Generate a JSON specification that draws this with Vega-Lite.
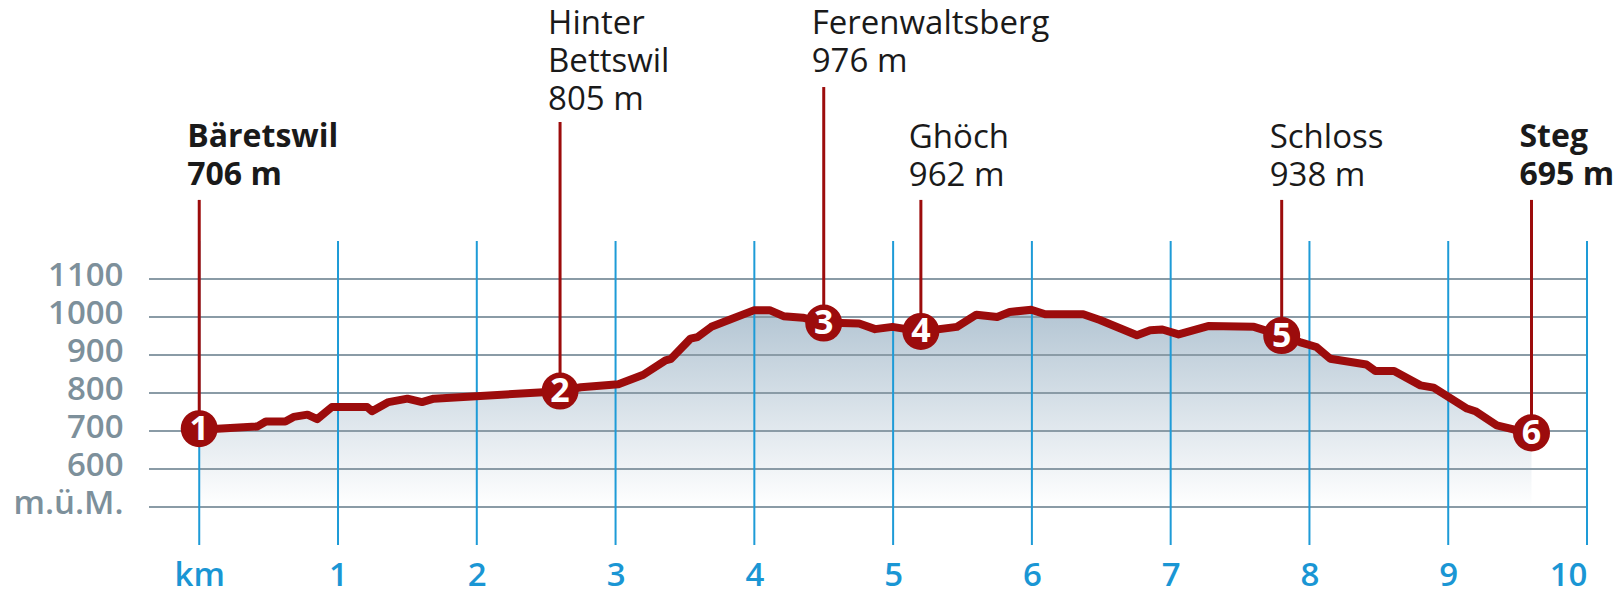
{
  "$schema": "https://vega.github.io/schema/vega-lite/v6.json",
  "width": 1438,
  "height": 545,
  "autosize": {"type": "none"},
  "padding": {"left": 149, "top": 0, "right": 35, "bottom": 51},
  "background": "#ffffff",
  "config": {"view": {"stroke": null}, "font": "Open Sans"},
  "datasets": {
    "profile": [
      {"km": 0, "elev": 706}, {"km": 0.13, "elev": 706}, {"km": 0.42, "elev": 712}, {"km": 0.48, "elev": 725},
      {"km": 0.62, "elev": 725}, {"km": 0.68, "elev": 737}, {"km": 0.78, "elev": 743}, {"km": 0.85, "elev": 731},
      {"km": 0.956, "elev": 763}, {"km": 1.21, "elev": 763}, {"km": 1.245, "elev": 752}, {"km": 1.364, "elev": 776},
      {"km": 1.5, "elev": 785}, {"km": 1.605, "elev": 776}, {"km": 1.69, "elev": 785}, {"km": 2.48, "elev": 802},
      {"km": 2.6, "elev": 805}, {"km": 2.75, "elev": 815}, {"km": 3.02, "elev": 823}, {"km": 3.2, "elev": 848},
      {"km": 3.36, "elev": 886}, {"km": 3.4, "elev": 890}, {"km": 3.54, "elev": 943}, {"km": 3.59, "elev": 947},
      {"km": 3.69, "elev": 974}, {"km": 4.0, "elev": 1018}, {"km": 4.11, "elev": 1018}, {"km": 4.21, "elev": 1002},
      {"km": 4.35, "elev": 998}, {"km": 4.5, "elev": 984}, {"km": 4.63, "elev": 984}, {"km": 4.755, "elev": 983},
      {"km": 4.87, "elev": 968}, {"km": 4.995, "elev": 974}, {"km": 5.2, "elev": 962}, {"km": 5.46, "elev": 974},
      {"km": 5.6, "elev": 1006}, {"km": 5.75, "elev": 1000}, {"km": 5.84, "elev": 1013}, {"km": 5.995, "elev": 1019},
      {"km": 6.096, "elev": 1007}, {"km": 6.37, "elev": 1007}, {"km": 6.49, "elev": 992}, {"km": 6.757, "elev": 952},
      {"km": 6.853, "elev": 965}, {"km": 6.94, "elev": 967}, {"km": 7.057, "elev": 954}, {"km": 7.27, "elev": 976},
      {"km": 7.6, "elev": 974}, {"km": 7.8, "elev": 951}, {"km": 7.93, "elev": 934}, {"km": 8.05, "elev": 921},
      {"km": 8.15, "elev": 890}, {"km": 8.41, "elev": 875}, {"km": 8.475, "elev": 858}, {"km": 8.61, "elev": 858},
      {"km": 8.8, "elev": 820}, {"km": 8.895, "elev": 814}, {"km": 9.135, "elev": 759}, {"km": 9.195, "elev": 752},
      {"km": 9.35, "elev": 715}, {"km": 9.47, "elev": 704}, {"km": 9.6, "elev": 695}
    ],
    "grid": [
      {"elev": 500}, {"elev": 600}, {"elev": 700}, {"elev": 800}, {"elev": 900}, {"elev": 1000}, {"elev": 1100}
    ],
    "kms": [
      {"km": 0}, {"km": 1}, {"km": 2}, {"km": 3}, {"km": 4}, {"km": 5}, {"km": 6}, {"km": 7}, {"km": 8}, {"km": 9}, {"km": 10}
    ],
    "stops": [
      {"n": "1", "km": 0, "elev": 706, "top": 1308, "ly": 1513, "label": "Bäretswil\n706 m", "bold": true},
      {"n": "2", "km": 2.6, "elev": 805, "top": 1513, "ly": 1813, "label": "Hinter\nBettswil\n805 m", "bold": false},
      {"n": "3", "km": 4.5, "elev": 984, "top": 1605, "ly": 1813, "label": "Ferenwaltsberg\n976 m", "bold": false},
      {"n": "4", "km": 5.2, "elev": 962, "top": 1308, "ly": 1513, "label": "Ghöch\n962 m", "bold": false},
      {"n": "5", "km": 7.8, "elev": 951, "top": 1308, "ly": 1513, "label": "Schloss\n938 m", "bold": false},
      {"n": "6", "km": 9.6, "elev": 695, "top": 1308, "ly": 1513, "label": "Steg\n695 m", "bold": true}
    ]
  },
  "layer": [
    {
      "data": {"name": "profile"},
      "mark": {
        "type": "area",
        "color": {
          "gradient": "linear", "x1": 0, "y1": 0, "x2": 0, "y2": 1,
          "stops": [{"offset": 0, "color": "#b3c5d3"}, {"offset": 1, "color": "#ffffff"}]
        }
      },
      "encoding": {
        "x": {
          "field": "km", "type": "quantitative",
          "scale": {"domain": [-0.362, 10], "nice": false, "zero": false},
          "axis": {
            "title": null, "values": [0, 1, 2, 3, 4, 5, 6, 7, 8, 9, 10],
            "format": "d",
            "labelExpr": "datum.value == 0 ? 'km' : datum.label",
            "ticks": false, "domain": false, "grid": false,
            "labelFontSize": 33, "labelFontWeight": 600, "labelColor": "#1a96d4",
            "labelPadding": 14, "labelFont": "Open Sans"
          }
        },
        "y": {
          "field": "elev", "type": "quantitative",
          "scale": {"domain": [400, 1834], "nice": false, "zero": false},
          "axis": {
            "title": null, "values": [500, 600, 700, 800, 900, 1000, 1100],
            "format": "d",
            "labelExpr": "datum.value == 500 ? 'm.ü.M.' : datum.label",
            "ticks": false, "domain": false, "grid": false,
            "labelFontSize": 33, "labelFontWeight": 600, "labelColor": "#7d909b",
            "labelPadding": 26, "labelBaseline": "alphabetic", "labelOffset": 7, "labelFont": "Open Sans"
          }
        },
        "y2": {"datum": 500}
      }
    },
    {
      "data": {"name": "grid"},
      "mark": {"type": "rule", "color": "#8a9ba6", "strokeWidth": 2},
      "encoding": {"y": {"field": "elev", "type": "quantitative"}}
    },
    {
      "data": {"name": "kms"},
      "mark": {"type": "rule", "color": "#1e9bd7", "strokeWidth": 2},
      "encoding": {
        "x": {"field": "km", "type": "quantitative"},
        "y": {"datum": 400, "type": "quantitative"},
        "y2": {"datum": 1200}
      }
    },
    {
      "data": {"name": "stops"},
      "mark": {"type": "rule", "color": "#9c0c0c", "strokeWidth": 3},
      "encoding": {
        "x": {"field": "km", "type": "quantitative"},
        "y": {"field": "top", "type": "quantitative"},
        "y2": {"field": "elev"}
      }
    },
    {
      "data": {"name": "profile"},
      "mark": {"type": "line", "color": "#9c0c0c", "strokeWidth": 8, "strokeJoin": "round", "strokeCap": "round"},
      "encoding": {
        "x": {"field": "km", "type": "quantitative"},
        "y": {"field": "elev", "type": "quantitative"}
      }
    },
    {
      "data": {"name": "stops"},
      "mark": {"type": "point", "shape": "circle", "filled": true, "size": 1370, "opacity": 1, "color": "#9c0c0c"},
      "encoding": {
        "x": {"field": "km", "type": "quantitative"},
        "y": {"field": "elev", "type": "quantitative"}
      }
    },
    {
      "data": {"name": "stops"},
      "mark": {"type": "text", "color": "#ffffff", "font": "Open Sans", "fontWeight": "bold", "fontSize": 34, "baseline": "middle", "align": "center", "dy": 1},
      "encoding": {
        "x": {"field": "km", "type": "quantitative"},
        "y": {"field": "elev", "type": "quantitative"},
        "text": {"field": "n"}
      }
    },
    {
      "data": {"name": "stops"},
      "transform": [{"filter": "!datum.bold"}],
      "mark": {"type": "text", "color": "#1a1a1a", "font": "Open Sans", "fontWeight": "normal", "fontSize": 33, "baseline": "top", "align": "left", "dx": -12, "lineBreak": "\n", "lineHeight": 38},
      "encoding": {
        "x": {"field": "km", "type": "quantitative"},
        "y": {"field": "ly", "type": "quantitative"},
        "text": {"field": "label"}
      }
    },
    {
      "data": {"name": "stops"},
      "transform": [{"filter": "datum.bold"}],
      "mark": {"type": "text", "color": "#1a1a1a", "font": "Open Sans", "fontWeight": "bold", "fontSize": 32, "baseline": "top", "align": "left", "dx": -12, "lineBreak": "\n", "lineHeight": 38},
      "encoding": {
        "x": {"field": "km", "type": "quantitative"},
        "y": {"field": "ly", "type": "quantitative"},
        "text": {"field": "label"}
      }
    }
  ]
}
